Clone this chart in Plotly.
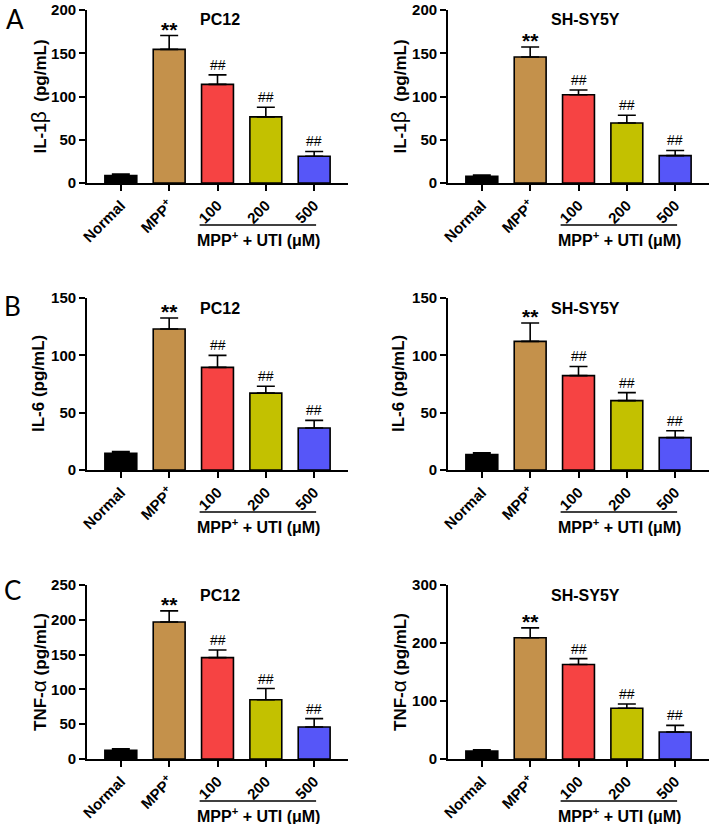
import plotly.graph_objects as go

W, H = 709, 824

categories = ["Normal", "MPP<sup>+</sup>", "100", "200", "500"]
bar_colors = ["#000000", "#C4914B", "#F64343", "#C3C100", "#5656F8"]

il1b_pc12 = [8.5, 154.5, 114, 76.5, 31]
il1b_pc12_err = [1.8, 16, 11, 11, 5.5]
il1b_sh = [7.7, 145.7, 102, 69.4, 31.6]
il1b_sh_err = [1.5, 11.5, 5.5, 9, 6]

il6_pc12 = [14.5, 123, 89.5, 67, 36.6]
il6_pc12_err = [1.5, 9.5, 10.5, 6, 6.7]
il6_sh = [13.4, 112.2, 82.3, 60.5, 28.2]
il6_sh_err = [1.5, 16, 8, 7, 6]

tnf_pc12 = [12.5, 196.8, 145.6, 85.2, 46]
tnf_pc12_err = [2, 16, 11, 16, 12]
tnf_sh = [13.8, 209, 163, 87.4, 46.5]
tnf_sh_err = [2, 17, 10, 7.5, 11.5]

marks = ["", "**", "##", "##", "##"]

GREEK = "<span style='font-weight:normal;font-size:21px'>%s</span>"
panels = [
    # (values, errors, ymax, dtick, ytitle, title, col, row)
    (il1b_pc12, il1b_pc12_err, 200, 50, "IL-1" + GREEK % "β" + "  (pg/mL)", "PC12", 0, 0),
    (il1b_sh, il1b_sh_err, 200, 50, "IL-1" + GREEK % "β" + "  (pg/mL)", "SH-SY5Y", 1, 0),
    (il6_pc12, il6_pc12_err, 150, 50, "IL-6 (pg/mL)", "PC12", 0, 1),
    (il6_sh, il6_sh_err, 150, 50, "IL-6 (pg/mL)", "SH-SY5Y", 1, 1),
    (tnf_pc12, tnf_pc12_err, 250, 50, "TNF-" + GREEK % "α" + " (pg/mL)", "PC12", 0, 2),
    (tnf_sh, tnf_sh_err, 300, 100, "TNF-" + GREEK % "α" + " (pg/mL)", "SH-SY5Y", 1, 2),
]
panel_letters = ["A", "B", "C"]

# pixel layout (reference coordinates)
col_x = [(87, 348), (448, 709)]
row_y = [(10, 183), (298, 470), (585, 759)]
ytitle_x = [38, 398]
title_x = [220, 585]
letter_pos = [(15, 19), (12, 306), (12, 590)]

FONT = "Liberation Sans, Arial, sans-serif"

def fx(x):
    return x / W

def fy(y):
    return 1 - y / H

fig = go.Figure()
annotations = []
shapes = []

for i, (vals, errs, ymax, dtick, ytitle, title, c, r) in enumerate(panels):
    n = i + 1
    xa = "x" if n == 1 else f"x{n}"
    ya = "y" if n == 1 else f"y{n}"
    xkey = "xaxis" if n == 1 else f"xaxis{n}"
    ykey = "yaxis" if n == 1 else f"yaxis{n}"

    fig.add_trace(go.Bar(
        x=categories, y=vals, xaxis=xa, yaxis=ya,
        marker=dict(color=bar_colors, line=dict(color="black", width=1.6)),
        width=0.66,
        error_y=dict(type="data", array=errs, arrayminus=[0] * len(errs),
                     symmetric=False, color="black", thickness=1.6, width=9),
        showlegend=False, hoverinfo="skip",
    ))

    x0p, x1p = col_x[c]
    y0p, y1p = row_y[r]
    fig.layout[xkey] = dict(
        domain=[fx(x0p), fx(x1p)], anchor=ya, range=[-0.7, 4.7],
        type="category", showline=True, linecolor="black", linewidth=1.8,
        ticks="outside", ticklen=6, tickwidth=1.8, tickcolor="black",
        tickangle=-45, showgrid=False, zeroline=False, automargin=False,
        tickfont=dict(family=FONT, size=15, color="black", weight="bold"),
    )
    fig.layout[ykey] = dict(
        domain=[fy(y1p), fy(y0p)], anchor=xa, range=[0, ymax], dtick=dtick,
        showline=True, linecolor="black", linewidth=1.8,
        ticks="outside", ticklen=6, tickwidth=1.8, tickcolor="black",
        showgrid=False, zeroline=False, automargin=False,
        ticklabeloverflow="allow",
        tickfont=dict(family=FONT, size=15, color="black", weight="bold"),
    )

    # significance marks (x given as category index)
    for k, m in enumerate(marks):
        if not m:
            continue
        if m == "**":
            annotations.append(dict(
                x=k, y=vals[k] + errs[k], xref=xa, yref=ya,
                text=m, showarrow=False, yanchor="bottom", yshift=-7,
                font=dict(family=FONT, size=21, color="black", weight="bold")))
        else:
            annotations.append(dict(
                x=k, y=vals[k] + errs[k], xref=xa, yref=ya,
                text=m, showarrow=False, yanchor="bottom", yshift=0,
                font=dict(family=FONT, size=14, color="black")))

    # panel title
    annotations.append(dict(
        x=fx(title_x[c]), y=fy(y0p + 10), xref="paper", yref="paper",
        text=title, showarrow=False, xanchor="center", yanchor="middle",
        font=dict(family=FONT, size=16, color="black", weight="bold")))

    # y axis title
    annotations.append(dict(
        x=fx(ytitle_x[c]), y=fy((y0p + y1p) / 2), xref="paper", yref="paper",
        text=ytitle, showarrow=False, textangle=-90, xanchor="center", yanchor="middle",
        font=dict(family=FONT, size=17, color="black", weight="bold")))

    # bracket + group label
    shapes.append(dict(type="line", xref=xa, yref="paper",
                       x0=1.63, x1=4.04, y0=fy(y1p + 42), y1=fy(y1p + 42),
                       line=dict(color="black", width=1.6)))
    annotations.append(dict(
        x=2.84, y=fy(y1p + 56), xref=xa, yref="paper",
        text="MPP<sup>+</sup> + UTI (μM)", showarrow=False,
        xanchor="center", yanchor="middle",
        font=dict(family=FONT, size=16, color="black", weight="bold")))

for letter, (lx, ly) in zip(panel_letters, letter_pos):
    annotations.append(dict(
        x=fx(lx), y=fy(ly), xref="paper", yref="paper", text=letter,
        showarrow=False, xanchor="center", yanchor="middle",
        font=dict(family="Lato, sans-serif", size=26, color="black")))

fig.update_layout(
    width=W, height=H, margin=dict(l=0, r=0, t=0, b=0),
    paper_bgcolor="white", plot_bgcolor="white",
    annotations=annotations, shapes=shapes, bargap=0.3,
)

fig.write_html(
    "out.html",
    config={"displayModeBar": False},
    post_script="document.body.style.margin='0';document.body.style.overflow='hidden';",
)
